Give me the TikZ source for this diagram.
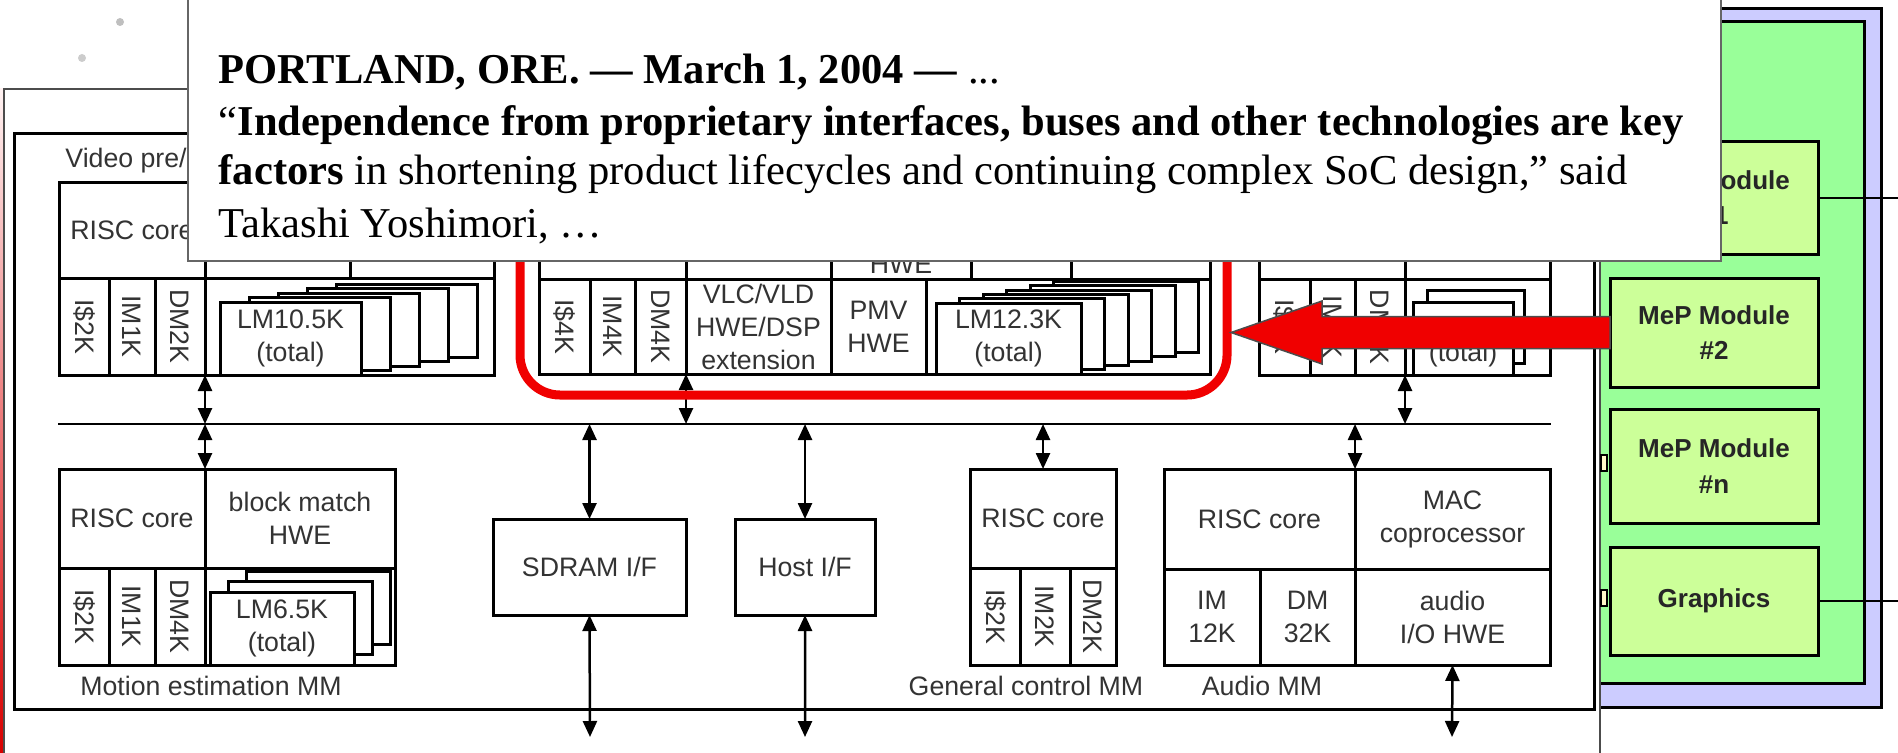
\documentclass[tikz,border=0pt]{standalone}
\usepackage{fontspec}
\setmainfont{Liberation Serif}
\newfontfamily\lblfont{Liberation Sans}
\usepackage{graphicx}
\usepackage{tikz}
\usetikzlibrary{calc,arrows.meta}
\definecolor{panelblue}{RGB}{204, 204, 255}
\definecolor{panelgreen}{RGB}{153, 255, 153}
\definecolor{modgreen}{RGB}{204, 255, 153}
\definecolor{tabcream}{RGB}{255, 250, 200}
\definecolor{hotred}{RGB}{240, 0, 0}

\tikzset{
  lbl/.style={font=\lblfont\fontsize{7.6pt}{9.4pt}\selectfont, text=black!80, align=center},
  cellbox/.style={draw, line width=0.3mm, fill=white, inner sep=0pt, outer sep=0pt, lbl},
  modbox/.style={cellbox, fill=modgreen, text=black!85,
    font=\lblfont\bfseries\fontsize{7.4pt}{10pt}\selectfont},
  hilite/.style={draw=hotred, line width=0.9mm, rounded corners=4mm, inner sep=0pt, outer sep=0pt},
  quotebox/.style={draw=black!60, line width=0.2mm, fill=white, inner sep=0pt, outer sep=0pt},
  quoteline/.style={anchor=base west, inner sep=0pt, font=\fontsize{12.1pt}{14pt}\selectfont},
  stackbox/.style={draw, line width=0.3mm, fill=white},
  biarrow/.style={{Triangle[length=1.6mm,width=1.4mm]}-{Triangle[length=1.6mm,width=1.4mm]}, line width=0.25mm},
  wire/.style={line width=0.2mm}
}

% cell of a block: [style]{name}{x1}{y1}{x2}{y2}{text}
\newcommand{\mmcell}[7][cellbox]{%
  \pgfmathsetmacro{\mmw}{(#5-#3)*0.1}%
  \pgfmathsetmacro{\mmh}{(#6-#4)*0.1}%
  \node[#1, minimum width=\mmw mm, minimum height=\mmh mm, anchor=north west] (#2) at (#3,#4) {#7};%
}
\newcommand{\rot}[1]{\rotatebox{-90}{#1}}

\begin{document}
\begin{tikzpicture}[x=0.1mm, y=-0.1mm]
  \useasboundingbox (0,0) rectangle (1898,753);

  % MeP module panel
  \draw[line width=0.3mm, fill=panelblue] (1560,9) rectangle (1881,707);
  \draw[line width=0.3mm, fill=panelgreen] (1560,22) rectangle (1864,683);
  \mmcell[modbox]{mod1}{1610}{142}{1818}{254}{MeP Module\\\#1}
  \mmcell[modbox]{mod2}{1610}{278}{1818}{387}{MeP Module\\\#2}
  \mmcell[modbox]{modn}{1610}{409}{1818}{523}{MeP Module\\\#n}
  \mmcell[modbox]{gfx}{1610}{547}{1818}{655}{Graphics}
  \coordinate (rimE) at (1898,0);
  \draw[wire] (mod1.east) -- (mod1.east -| rimE);
  \draw[wire] (gfx.east) -- (gfx.east -| rimE);

  % Outer frame and red edge
  \draw[black!70, line width=0.15mm, fill=white] (4,89) rectangle (1600,780);
  \shade[top color=red!5, bottom color=red!85!black] (0,89) rectangle (3,753);
  \draw[line width=0.2mm, fill=tabcream] (1601,455) rectangle (1607,471);
  \draw[line width=0.2mm, fill=tabcream] (1601,590) rectangle (1607,606);

  % Media module frame
  \draw[line width=0.3mm] (14,134) rectangle (1594,709);
  \node[lbl, anchor=base west] (vpplbl) at (53,167) {Video pre/p};

  % Video pre/post processing MM
  \mmcell{vcore}{59}{183}{205}{278}{RISC core}
  \mmcell{vup2}{205}{183}{350}{278}{}
  \mmcell{vup3}{350}{183}{494}{278}{}
  \mmcell{vis}{59}{278}{109}{375}{\rot{I\$2K}}
  \mmcell{vim}{109}{278}{155}{375}{\rot{IM1K}}
  \mmcell{vdm}{155}{278}{205}{375}{\rot{DM2K}}
  \mmcell{vlmcell}{205}{278}{494}{375}{}
  \foreach \i in {4,3,2,1}
    \draw[stackbox] ({220+29*\i},{302-4.5*\i}) rectangle ++(141,73);
  \mmcell{vlm}{220}{302}{361}{375}{LM10.5K\\(total)}

  % Video codec MM
  \mmcell{cup1}{539}{183}{686}{279}{}
  \mmcell{cup2}{686}{183}{831}{279}{}
  \mmcell{cup3}{831}{183}{971}{279}{}
  \mmcell{cup4}{971}{183}{1071}{279}{}
  \mmcell{cup5}{1071}{183}{1210}{279}{}
  \node[lbl, anchor=base, inner sep=0pt] (chwe) at (901,273) {HWE};
  \mmcell{cis}{539}{279}{590}{374}{\rot{I\$4K}}
  \mmcell{cim}{590}{279}{635}{374}{\rot{IM4K}}
  \mmcell{cdm}{635}{279}{686}{374}{\rot{DM4K}}
  \mmcell{cvlc}{686}{279}{831}{374}{VLC/VLD\\HWE/DSP\\extension}
  \mmcell{cpmv}{831}{279}{926}{374}{PMV\\HWE}
  \mmcell{clmcell}{926}{279}{1210}{374}{}
  \foreach \i in {5,4,3,2,1}
    \draw[stackbox] ({936+23.5*\i},{303-4.3*\i}) rectangle ++(145,71);
  \mmcell{clm}{936}{303}{1081}{374}{LM12.3K\\(total)}

  % Right video MM
  \mmcell{rup1}{1259}{183}{1405}{279}{}
  \mmcell{rup2}{1405}{183}{1550}{279}{}
  \mmcell{ris}{1259}{279}{1310}{375}{\rot{I\$4K}}
  \mmcell{rim}{1310}{279}{1355}{375}{\rot{IM4K}}
  \mmcell{rdm}{1355}{279}{1405}{375}{\rot{DM4K}}
  \mmcell{rlmcell}{1405}{279}{1550}{375}{}
  \draw[stackbox] (1427,290) rectangle (1524,363);
  \mmcell{rlm}{1413}{302}{1513}{375}{\phantom{LM4K}\\(total)}

  % Motion estimation MM
  \mmcell{mcore}{59}{469}{205}{568}{RISC core}
  \mmcell{mbm}{205}{469}{395}{568}{block match\\HWE}
  \mmcell{mis}{59}{568}{109}{665}{\rot{I\$2K}}
  \mmcell{mim}{109}{568}{155}{665}{\rot{IM1K}}
  \mmcell{mdm}{155}{568}{205}{665}{\rot{DM4K}}
  \mmcell{mlmcell}{205}{568}{395}{665}{}
  \foreach \i in {2,1}
    \draw[stackbox] ({210+18*\i},{592-10.5*\i}) rectangle ++(144,73);
  \mmcell{mlm}{210}{592}{354}{665}{LM6.5K\\(total)}
  \node[lbl, anchor=base] (melbl) at (211,695) {Motion estimation MM};

  % Interfaces
  \mmcell{sdram}{493}{519}{686}{615}{SDRAM I/F}
  \mmcell{host}{735}{519}{875}{615}{Host I/F}

  % General control MM
  \mmcell{gcore}{970}{469}{1116}{568}{RISC core}
  \mmcell{gis}{970}{568}{1020}{665}{\rot{I\$2K}}
  \mmcell{gim}{1020}{568}{1070}{665}{\rot{IM2K}}
  \mmcell{gdm}{1070}{568}{1116}{665}{\rot{DM2K}}
  \node[lbl, anchor=base] (gclbl) at (1026,695) {General control MM};

  % Audio MM
  \mmcell{acore}{1164}{469}{1355}{569}{RISC core}
  \mmcell{amac}{1355}{469}{1550}{569}{MAC\\coprocessor}
  \mmcell{aim}{1164}{569}{1260}{665}{IM\\12K}
  \mmcell{adm}{1260}{569}{1355}{665}{DM\\32K}
  \mmcell{aio}{1355}{569}{1550}{665}{audio\\I/O HWE}
  \node[lbl, anchor=base] (audlbl) at (1262,695) {Audio MM};

  % Bus and links
  \coordinate (busW) at (58,424);
  \coordinate (busE) at (1551,424);
  \coordinate (sdramEnd) at (590,737);
  \coordinate (hostEnd) at (805,737);
  \coordinate (audioEnd) at (1452,737);
  \draw[line width=0.25mm] (busW) -- (busE);
  \draw[biarrow] (vdm.south east) -- (vdm.south east |- busW);
  \draw[biarrow] (cdm.south east) -- (cdm.south east |- busW);
  \draw[biarrow] (rdm.south east) -- (rdm.south east |- busW);
  \draw[biarrow] (mcore.north east |- busW) -- (mcore.north east);
  \draw[biarrow] (sdram.north |- busW) -- (sdram.north);
  \draw[biarrow] (host.north |- busW) -- (host.north);
  \draw[biarrow] (gcore.north |- busW) -- (gcore.north);
  \draw[biarrow] (acore.north east |- busW) -- (acore.north east);
  \draw[biarrow] (sdram.south) -- (sdramEnd);
  \draw[biarrow] (host.south) -- (hostEnd);
  \draw[biarrow] (aio.south) -- (audioEnd);

  % Highlight and pointer
  \mmcell[hilite]{codecfrm}{520}{150}{1227}{395}{}
  \draw[line width=0.15mm, draw=black!70, fill=hotred]
    ($(mod2.west)+(0,-16)$) -- ($(mod2.west)+(0,16)$) -- (1322,348.5) -- (1322,364)
    -- ($(codecfrm.east |- mod2.west)+(4,0)$) -- (1322,301) -- (1322,316.5) -- cycle;

  % Quote
  \mmcell[quotebox]{quote}{188}{-5}{1721}{261}{}
  \node[quoteline] (q1) at (218,84) {\textbf{PORTLAND, ORE. — March 1, 2004 —} ...};
  \node[quoteline] (q2) at (218,136) {“\textbf{Independence from proprietary interfaces, buses and other technologies are key}};
  \node[quoteline] (q3) at (218,185) {\textbf{factors} in shortening product lifecycles and continuing complex SoC design,” said};
  \node[quoteline] (q4) at (218,237) {Takashi Yoshimori, …};

  % specks
  \fill[black!25] (120,22) circle (0.4mm);
  \fill[black!20] (82,58) circle (0.4mm);
\end{tikzpicture}
\end{document}
